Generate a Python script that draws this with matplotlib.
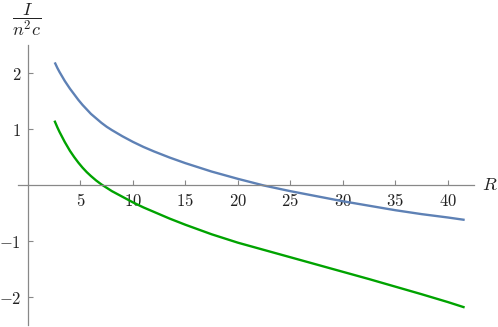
import matplotlib.pyplot as plt

plt.rcParams['mathtext.fontset'] = 'cm'
plt.rcParams['font.family'] = ['DejaVu Serif']

# values
r_blue = [2.6, 2.8, 3.0, 3.25, 3.5, 3.75, 4.0, 4.4, 4.8, 5.2, 5.6, 6.0, 6.5, 7.0,
          7.5, 8.0, 9.0, 10, 11, 12, 13.5, 15, 17.5, 20, 22.5, 25, 27.5, 30,
          32.5, 35, 37.5, 40, 41.5]
i_blue = [2.17, 2.09, 2.02, 1.94, 1.86, 1.79, 1.72, 1.62, 1.52, 1.43, 1.35, 1.27,
          1.19, 1.11, 1.04, 0.98, 0.87, 0.77, 0.68, 0.60, 0.49, 0.39, 0.24, 0.11,
          -0.01, -0.11, -0.20, -0.29, -0.37, -0.45, -0.52, -0.58, -0.62]

r_green = [2.57, 2.8, 3.0, 3.25, 3.5, 3.75, 4.0, 4.4, 4.8, 5.2, 5.6, 6.0, 6.5,
           7.0, 7.5, 8.0, 9.0, 10, 11, 12, 13.5, 15, 17.5, 20, 22.5, 25, 27.5,
           30, 32.5, 35, 37.5, 40, 41.5]
i_green = [1.13, 1.03, 0.95, 0.86, 0.77, 0.69, 0.61, 0.50, 0.40, 0.31, 0.23, 0.16,
           0.08, 0.01, -0.05, -0.11, -0.21, -0.31, -0.40, -0.48, -0.60, -0.71,
           -0.88, -1.03, -1.16, -1.29, -1.42, -1.55, -1.68, -1.815, -1.95, -2.09,
           -2.18]

x_ticks = [5, 10, 15, 20, 25, 30, 35, 40]
y_ticks = [-2, -1, 1, 2]

fig = plt.figure(figsize=(4.98, 3.27), dpi=100)
ax = fig.add_axes([18 / 498, 2 / 327, 456 / 498, 280 / 327])

ax.plot(r_blue, i_blue, color='#5e81b5', lw=1.7, solid_joinstyle='round')
ax.plot(r_green, i_green, color='#00a300', lw=1.7, solid_joinstyle='round')

ax.set_xlim(-0.95, 42.5)
ax.set_ylim(-2.5, 2.5)

for side in ['top', 'right']:
    ax.spines[side].set_visible(False)
ax.spines['bottom'].set_position(('data', 0))
ax.spines['left'].set_position(('data', 0))
for side in ['bottom', 'left']:
    ax.spines[side].set_color('#888888')
    ax.spines[side].set_linewidth(0.9)

ax.set_xticks(x_ticks)
ax.set_xticklabels([f'${t}$' for t in x_ticks])
ax.set_yticks(y_ticks)
ax.set_yticklabels([f'${t}$' for t in y_ticks])
ax.tick_params(direction='in', length=3.5, width=0.8, color='#888888',
               labelsize=12, labelcolor='#222222')
ax.tick_params(axis='x', pad=6)
ax.tick_params(axis='y', pad=5)

fig.text(490 / 498, 1 - 185 / 327, '$R$', fontsize=13, ha='center', va='center',
         color='#222222')
fig.text(27 / 498, 1 - 20 / 327, r'$\dfrac{I}{n^2c}$', fontsize=13, ha='center',
         va='center', color='#222222')

fig.savefig('out.png', dpi=100)
